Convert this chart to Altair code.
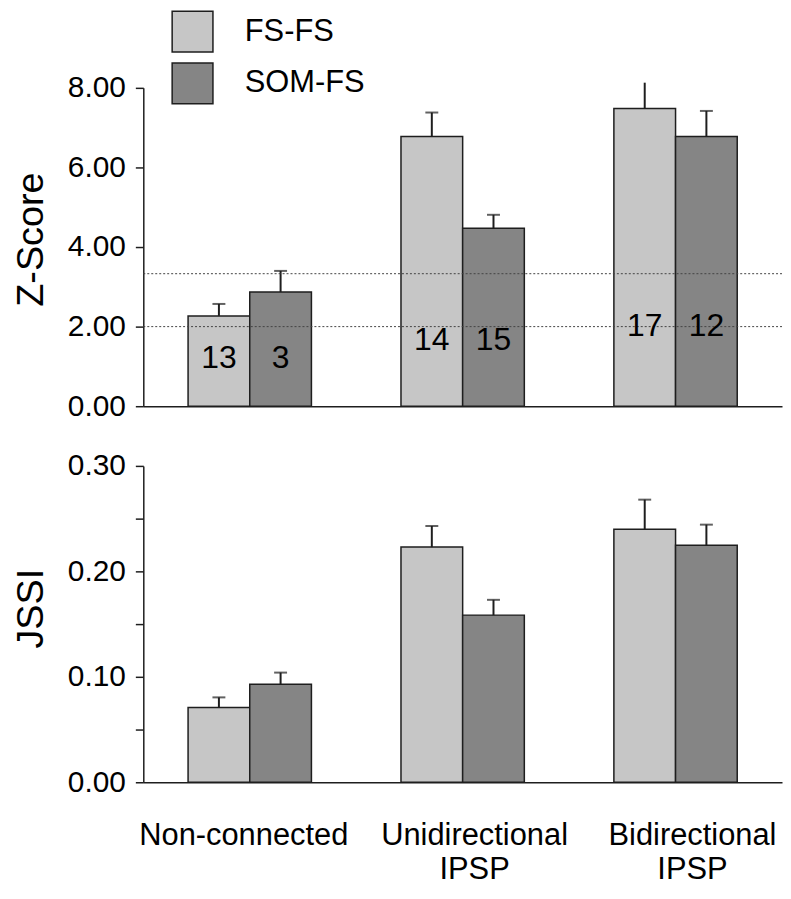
import altair as alt
import pandas as pd

categories = ["Non-connected", "Unidirectional IPSP", "Bidirectional IPSP"]
series = ["FS-FS", "SOM-FS"]
colors = ["#c6c6c6", "#858585"]

# Z-score panel
z_fs = [2.27, 6.78, 7.48]
z_fs_err = [0.30, 0.60, 0.65]
z_som = [2.87, 4.47, 6.78]
z_som_err = [0.53, 0.34, 0.64]
n_fs = [13, 14, 17]
n_som = [3, 15, 12]
n_label_pos = [1.22, 1.67, 2.02]
fs_cap = [1, 1, 0]
som_cap = [1, 1, 1]
thresholds = [2.0, 3.33]

# JSSI panel
j_fs = [0.071, 0.223, 0.240]
j_fs_err = [0.0095, 0.020, 0.028]
j_som = [0.093, 0.1585, 0.2248]
j_som_err = [0.011, 0.0145, 0.0195]

FONT = "Liberation Sans"
INK = "#1e1e1e"

rows = []
for i, c in enumerate(categories):
    rows.append(dict(cat=c, series=series[0], z=z_fs[i], zt=z_fs[i] + z_fs_err[i],
                     n=n_fs[i], npos=n_label_pos[i], cap=fs_cap[i],
                     j=j_fs[i], jt=j_fs[i] + j_fs_err[i]))
    rows.append(dict(cat=c, series=series[1], z=z_som[i], zt=z_som[i] + z_som_err[i],
                     n=n_som[i], npos=n_label_pos[i], cap=som_cap[i],
                     j=j_som[i], jt=j_som[i] + j_som_err[i]))
df = pd.DataFrame(rows)
thr = pd.DataFrame({"t": thresholds})

W = 642
xscale = alt.Scale(domain=categories, paddingInner=0, paddingOuter=0)
xoff = alt.XOffset("series:N", sort=series,
                   scale=alt.Scale(domain=series, paddingInner=0, paddingOuter=0.726))
cscale = alt.Scale(domain=series, range=colors)


def y_axis(title, values, expr, title_y):
    return alt.Axis(values=values, labelExpr=expr, title=title, titleFontSize=38,
                    titleFont=FONT, titleFontWeight="normal", titleAngle=270,
                    titleBaseline="top", titleAlign="center", titleX=-131, titleY=title_y,
                    titleColor="#000", tickSize=8, labelPadding=10, labelFontSize=30,
                    labelFont=FONT, labelColor="#000", labelOverlap=False,
                    domainColor=INK, tickColor=INK, domainWidth=1.5, tickWidth=1.5,
                    grid=False)


# ---------- top panel ----------
top_x = alt.X("cat:N", sort=categories, scale=xscale,
              axis=alt.Axis(title=None, labels=False, ticks=False, domainColor=INK,
                            domainWidth=1.5, grid=False))
zscale = alt.Scale(domain=[0, 8], nice=False)

top_bars = alt.Chart(df).mark_bar(stroke=INK, strokeWidth=1.5).encode(
    x=top_x, xOffset=xoff,
    y=alt.Y("z:Q", scale=zscale,
            axis=y_axis("Z-Score", list(range(9)),
                        "datum.value % 2 == 0 ? format(datum.value, '.2f') : ''", 152)),
    color=alt.Color("series:N", scale=cscale,
                    legend=alt.Legend(orient="none", legendX=28, legendY=-78, title=None,
                                      symbolType="square", symbolSize=1681,
                                      symbolStrokeColor=INK, symbolStrokeWidth=1.5,
                                      symbolOpacity=1, labelFontSize=31, labelFont=FONT,
                                      labelColor="#000", labelOffset=31, rowPadding=5,
                                      padding=0)),
)
top_err = alt.Chart(df).mark_rule(color=INK, strokeWidth=2).encode(
    x=top_x, xOffset=xoff, y=alt.Y("z:Q", scale=zscale), y2="zt:Q")
top_cap = alt.Chart(df).transform_filter("datum.cap == 1").mark_tick(
    color=INK, size=13, thickness=2).encode(
    x=top_x, xOffset=xoff, y=alt.Y("zt:Q", scale=zscale))
top_thr = alt.Chart(thr).mark_rule(color="#444", strokeWidth=1, strokeDash=[2, 2]).encode(
    y=alt.Y("t:Q", scale=zscale))
top_n = alt.Chart(df).mark_text(fontSize=32, font=FONT, color="#000", baseline="middle").encode(
    x=top_x, xOffset=xoff, y=alt.Y("npos:Q", scale=zscale), text="n:N")

top = alt.layer(top_bars, top_err, top_cap, top_thr, top_n).properties(width=W, height=320)

# ---------- bottom panel ----------
bot_x = alt.X("cat:N", sort=categories, scale=xscale,
              axis=alt.Axis(title=None, ticks=False, tickSize=0, labelAngle=0, labelLimit=0,
                            labelExpr="datum.value == 'Non-connected' ? datum.value : split(datum.value, ' ')",
                            labelFontSize=31, labelFont=FONT, labelColor="#000",
                            labelPadding=39, labelLineHeight=34, labelBaseline="top",
                            labelOffset={"condition": [
                                {"test": "datum.value == 'Non-connected'", "value": -6},
                                {"test": "datum.value == 'Unidirectional IPSP'", "value": 12}],
                                "value": 17},
                            domainColor=INK, domainWidth=1.5, grid=False))
jscale = alt.Scale(domain=[0, 0.30], nice=False)

bot_bars = alt.Chart(df).mark_bar(stroke=INK, strokeWidth=1.5).encode(
    x=bot_x, xOffset=xoff,
    y=alt.Y("j:Q", scale=jscale,
            axis=y_axis("JSSI", [0, 0.05, 0.1, 0.15, 0.2, 0.25, 0.3],
                        "round(datum.value * 100) % 10 == 0 ? format(datum.value, '.2f') : ''",
                        143)),
    color=alt.Color("series:N", scale=cscale, legend=None),
)
bot_err = alt.Chart(df).mark_rule(color=INK, strokeWidth=2).encode(
    x=bot_x, xOffset=xoff, y=alt.Y("j:Q", scale=jscale), y2="jt:Q")
bot_cap = alt.Chart(df).mark_tick(color=INK, size=13, thickness=2).encode(
    x=bot_x, xOffset=xoff, y=alt.Y("jt:Q", scale=jscale))

bottom = alt.layer(bot_bars, bot_err, bot_cap).properties(width=W, height=318)

chart = alt.vconcat(top, bottom, spacing=60, bounds="flush").resolve_legend(
    color="independent"
).configure_view(stroke=None).properties(
    background="white", padding={"left": 5, "top": 0, "right": 0, "bottom": 0})

chart.save("out.html", embed_options={"renderer": "svg", "actions": False})
